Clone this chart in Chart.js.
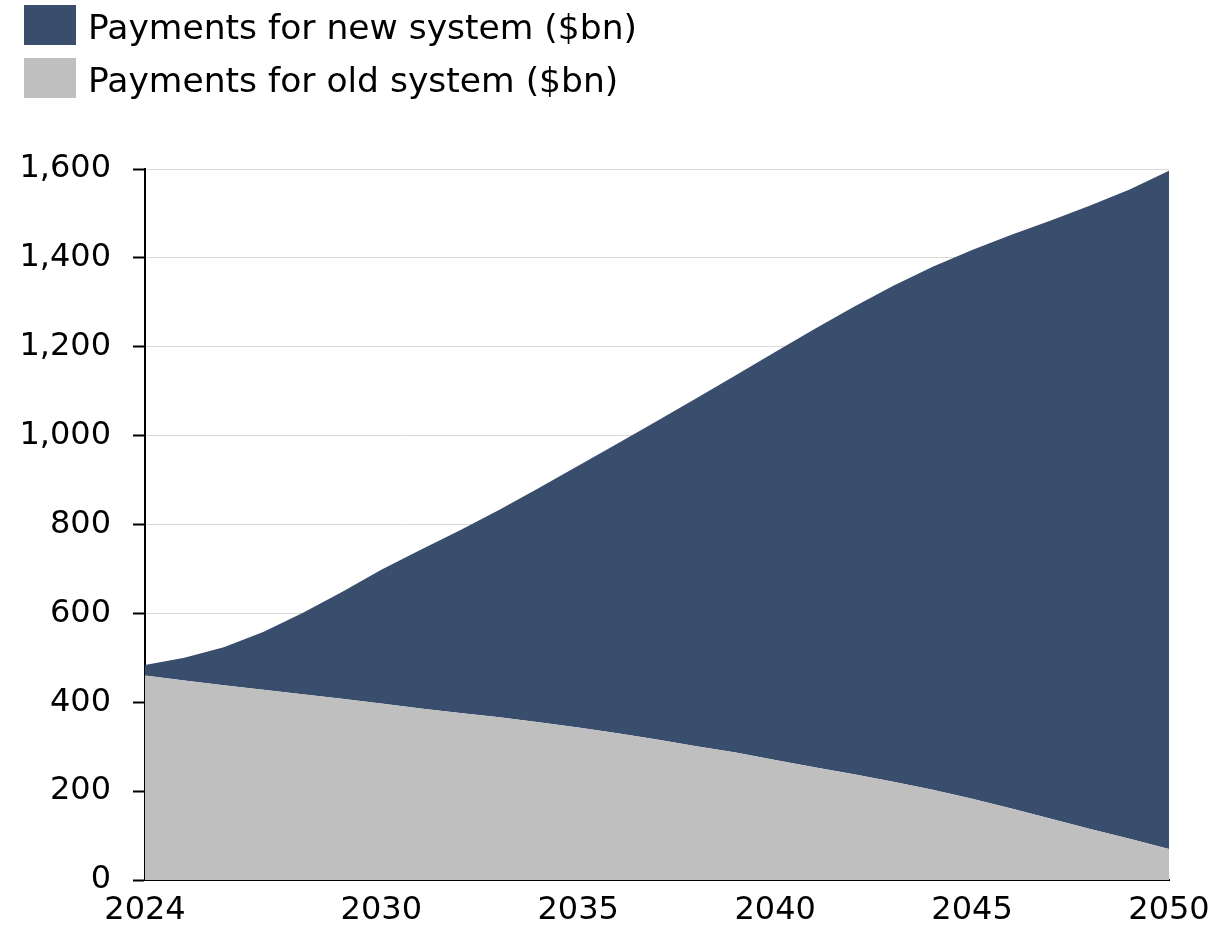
<!DOCTYPE html>
<html>
<head>
<meta charset="utf-8">
<script src="https://cdn.jsdelivr.net/npm/chart.js@4"></script>
<style>
  body { margin: 0; background: #fff; font-family: "DejaVu Sans", sans-serif; }
  #wrap { position: relative; width: 1229px; height: 933px; }
  #legend { position: absolute; left: 24px; top: 5px; }
  .item { display: flex; align-items: center; height: 40px; margin-bottom: 13px; font-size: 34.5px; color: #000; }
  .swatch { width: 52px; height: 40px; margin-right: 12px; flex: none; }
  .item span { position: relative; top: 2px; }
</style>
</head>
<body>
<div id="wrap">
  <div id="legend"></div>
  <canvas id="chart" width="1229" height="933"></canvas>
</div>
<script>
// data
const years = [2024, 2025, 2026, 2027, 2028, 2029, 2030, 2031, 2032, 2033, 2034, 2035, 2036,
  2037, 2038, 2039, 2040, 2041, 2042, 2043, 2044, 2045, 2046, 2047, 2048, 2049, 2050];
const oldSystem = [460, 449, 438, 428, 418, 408, 397, 386, 376, 366, 355, 343, 330,
  316, 301, 287, 270, 254, 238, 221, 203, 183, 161, 138, 115, 93, 70];
const newSystem = [24, 51, 86, 130, 183, 240, 301, 357, 411, 467, 527, 589, 652,
  717, 783, 849, 918, 986, 1052, 1116, 1177, 1235, 1291, 1346, 1403, 1461, 1526];
const xTicks = [2024, 2030, 2035, 2040, 2045, 2050];
const yTicks = [0, 200, 400, 600, 800, 1000, 1200, 1400, 1600];

const seriesNames = ['Payments for new system ($bn)', 'Payments for old system ($bn)'];
const seriesColors = ['#394d6d', '#bfbfbf'];

// legend (new system on top)
const legend = document.getElementById('legend');
seriesNames.forEach((name, i) => {
  const row = document.createElement('div');
  row.className = 'item';
  row.innerHTML = '<div class="swatch" style="background:' + seriesColors[i] + '"></div><span>' + name + '</span>';
  legend.appendChild(row);
});

const toPoints = vals => years.map((yr, i) => ({ x: yr, y: vals[i] }));
const tickFont = { family: 'DejaVu Sans', size: 32 };

new Chart(document.getElementById('chart').getContext('2d'), {
  type: 'line',
  data: {
    datasets: [
      {
        label: seriesNames[1],
        data: toPoints(oldSystem),
        backgroundColor: seriesColors[1],
        borderWidth: 0,
        pointRadius: 0,
        fill: 'origin'
      },
      {
        label: seriesNames[0],
        data: toPoints(newSystem),
        backgroundColor: seriesColors[0],
        borderWidth: 0,
        pointRadius: 0,
        fill: '-1'
      }
    ]
  },
  options: {
    responsive: false,
    animation: false,
    layout: { padding: { top: 169, right: 60, left: 0, bottom: 0 } },
    plugins: { legend: { display: false }, tooltip: { enabled: false } },
    scales: {
      x: {
        type: 'linear',
        min: 2024,
        max: 2050,
        afterBuildTicks: scale => { scale.ticks = xTicks.map(v => ({ value: v })); },
        afterFit: scale => { scale.height = 53; },
        grid: { display: false, drawTicks: false },
        border: { color: '#000', width: 2 },
        ticks: {
          color: '#000',
          font: tickFont,
          padding: 11,
          maxRotation: 0,
          autoSkip: false,
          callback: v => String(v)
        }
      },
      y: {
        stacked: true,
        min: 0,
        max: 1600,
        afterBuildTicks: scale => { scale.ticks = yTicks.map(v => ({ value: v })); },
        afterFit: scale => { scale.width = 145; },
        grid: {
          color: '#d9d9d9',
          lineWidth: 1,
          drawTicks: true,
          tickLength: 12,
          tickColor: '#000',
          tickWidth: 2
        },
        border: { color: '#000', width: 2 },
        ticks: {
          color: '#000',
          font: tickFont,
          padding: 22,
          callback: v => v.toLocaleString('en-US')
        }
      }
    }
  }
});
</script>
</body>
</html>
